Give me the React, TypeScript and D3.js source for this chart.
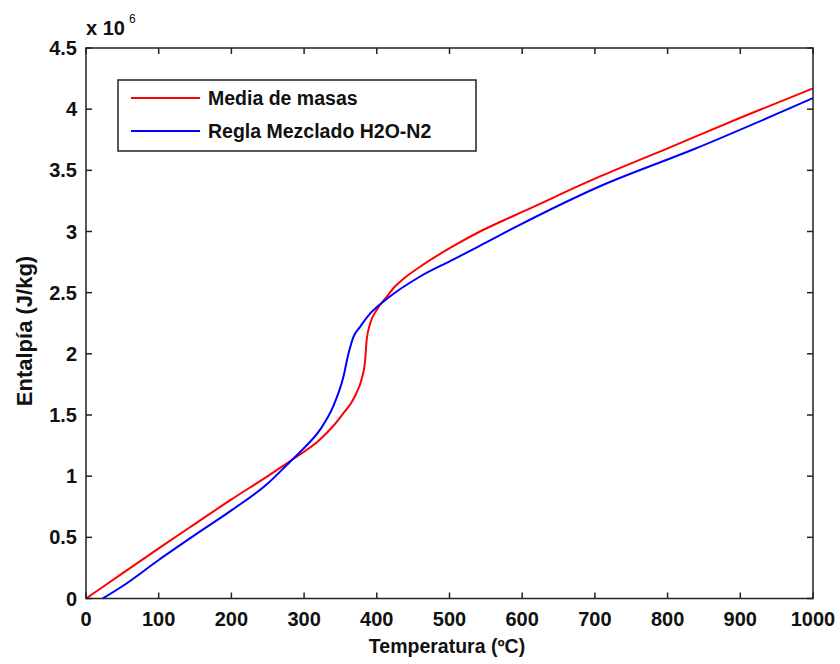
import React from 'react';
import * as d3 from 'd3';

// temperature (ºC) and enthalpy (x 10^6 J/kg)
const tempMedia = [0, 50, 100, 150, 200, 250, 280, 300, 320, 340, 356, 365, 372, 379, 384, 386, 391, 400, 414, 425, 436, 459, 505, 542, 574, 600, 707, 800, 900, 1000];
const hMedia = [0, 0.205, 0.41, 0.61, 0.81, 1.0, 1.12, 1.2, 1.29, 1.41, 1.53, 1.6, 1.68, 1.79, 1.95, 2.11, 2.25, 2.36, 2.47, 2.55, 2.61, 2.71, 2.88, 3.0, 3.09, 3.16, 3.45, 3.68, 3.93, 4.17];

const tempRegla = [23, 50, 100, 150, 200, 250, 281, 300, 322, 340, 354, 361, 368, 377, 391, 414, 459, 505, 547, 592, 707, 835, 1000];
const hRegla = [0, 0.1, 0.315, 0.52, 0.72, 0.94, 1.12, 1.23, 1.38, 1.57, 1.81, 2.0, 2.14, 2.22, 2.33, 2.45, 2.63, 2.77, 2.9, 3.04, 3.37, 3.67, 4.09];

const xTicks = [0, 100, 200, 300, 400, 500, 600, 700, 800, 900, 1000];
const yTicks = [0, 0.5, 1, 1.5, 2, 2.5, 3, 3.5, 4, 4.5];

const seriesNames = ['Media de masas', 'Regla Mezclado H2O-N2'];
const seriesColors = ['#ff0000', '#0000ff'];

export default function App() {
  const width = 840;
  const height = 664;
  const margin = { top: 48, right: 27, bottom: 65.5, left: 86 };
  const w = width - margin.left - margin.right;
  const h = height - margin.top - margin.bottom;

  const x = d3.scaleLinear().domain([0, 1000]).range([0, w]);
  const y = d3.scaleLinear().domain([0, 4.5]).range([h, 0]);

  const line = d3.line<[number, number]>()
    .x(d => x(d[0]))
    .y(d => y(d[1]))
    .curve(d3.curveMonotoneX);

  const series = [
    tempMedia.map((t, i) => [t, hMedia[i]] as [number, number]),
    tempRegla.map((t, i) => [t, hRegla[i]] as [number, number]),
  ];

  const font = '"Liberation Sans", Arial, sans-serif';
  const tick = 6;
  const axisColor = '#222';

  return (
    <svg width={width} height={height} style={{ position: 'absolute', left: 0, top: 0, background: '#fff' }}
      fontFamily={font} fontWeight="bold">
      <g transform={`translate(${margin.left},${margin.top})`}>
        {series.map((s, i) => (
          <path key={i} d={line(s) || ''} fill="none" stroke={seriesColors[i]} strokeWidth={2} />
        ))}

        {/* ticks on all four sides */}
        {xTicks.map(t => (
          <g key={'x' + t}>
            <line x1={x(t)} x2={x(t)} y1={h} y2={h - tick} stroke={axisColor} strokeWidth={1.5} />
            <line x1={x(t)} x2={x(t)} y1={0} y2={tick} stroke={axisColor} strokeWidth={1.5} />
            <text x={x(t)} y={h + 27} textAnchor="middle" fontSize={20} fill="#111">{t}</text>
          </g>
        ))}
        {yTicks.map(t => (
          <g key={'y' + t}>
            <line x1={0} x2={tick} y1={y(t)} y2={y(t)} stroke={axisColor} strokeWidth={1.5} />
            <line x1={w} x2={w - tick} y1={y(t)} y2={y(t)} stroke={axisColor} strokeWidth={1.5} />
            <text x={-9} y={y(t) + 7} textAnchor="end" fontSize={20} fill="#111">{t}</text>
          </g>
        ))}
        <rect x={0} y={0} width={w} height={h} fill="none" stroke={axisColor} strokeWidth={1.5} />

        <text x={0} y={-13} fontSize={20} fill="#111">x 10</text>
        <text x={43} y={-25} fontSize={12} fill="#111" fontWeight="normal">6</text>

        {/* legend */}
        <g transform="translate(32,32)">
          <rect x={0} y={0} width={358} height={71} fill="#fff" stroke={axisColor} strokeWidth={1.5} />
          {seriesNames.map((n, i) => (
            <g key={n} transform={`translate(0,${18 + i * 33})`}>
              <line x1={13} x2={82} y1={0} y2={0} stroke={seriesColors[i]} strokeWidth={2} />
              <text x={90} y={7} fontSize={19.5} fill="#111">{n}</text>
            </g>
          ))}
        </g>

        <text x={361} y={h + 54.5} textAnchor="middle" fontSize={19.5} fill="#111">Temperatura (ºC)</text>
        <text transform={`translate(${-54},${283}) rotate(-90)`} textAnchor="middle" fontSize={22}
          fill="#111">Entalpía (J/kg)</text>
      </g>
    </svg>
  );
}
